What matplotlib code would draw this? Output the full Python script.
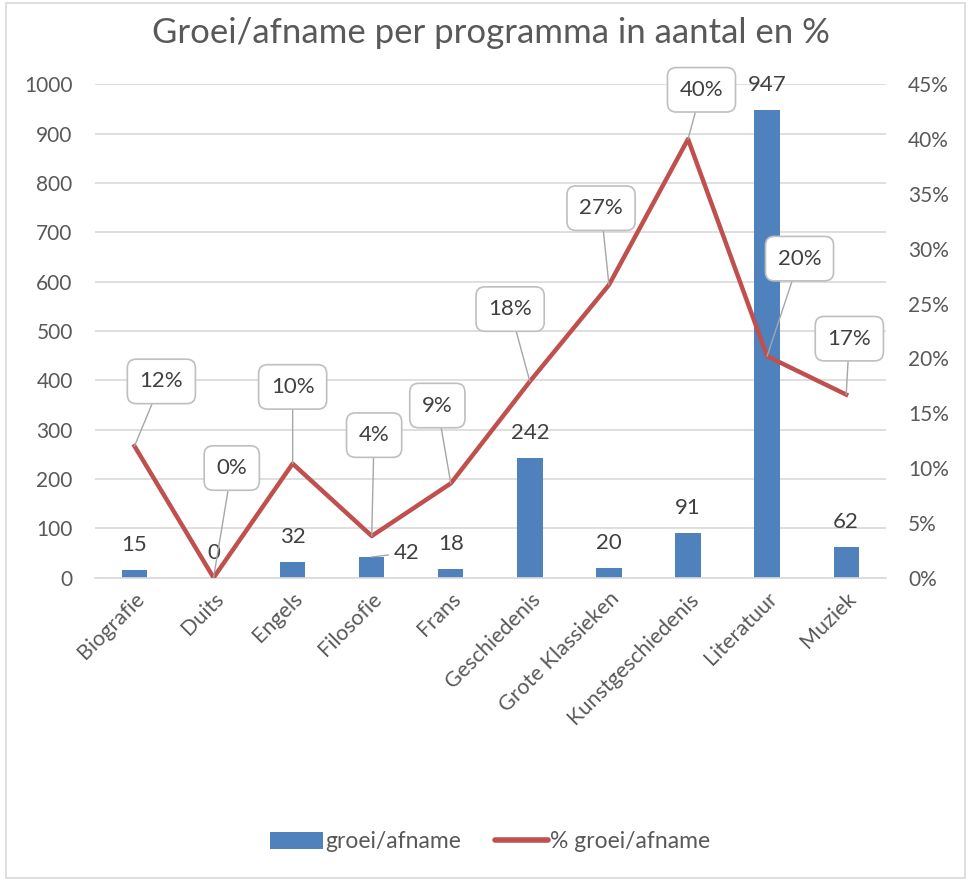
import matplotlib
matplotlib.use('Agg')
from matplotlib import pyplot as plt
from matplotlib.patches import Rectangle, Patch
from matplotlib.lines import Line2D
import numpy as np

plt.rcParams['font.family'] = ['Lato', 'DejaVu Sans']

categories = ['Biografie', 'Duits', 'Engels', 'Filosofie', 'Frans', 'Geschiedenis',
              'Grote Klassieken', 'Kunstgeschiedenis', 'Literatuur', 'Muziek']
groei = [15, 0, 32, 42, 18, 242, 20, 91, 947, 62]
pct_groei = [0.12, 0.0, 0.104, 0.038, 0.086, 0.179, 0.267, 0.40, 0.202, 0.167]
pct_labels = ['12%', '0%', '10%', '4%', '9%', '18%', '27%', '40%', '20%', '17%']

# where the callout boxes sit (category position, value on the % axis)
box_pos = [(0.34, 0.179), (1.23, 0.100), (2.0, 0.174), (3.03, 0.130), (3.83, 0.157),
           (4.75, 0.245), (5.90, 0.337), (7.17, 0.445), (8.41, 0.291), (9.04, 0.218)]

BLUE = '#4f81bd'
RED = '#c0504d'
GRID = '#d9d9d9'
TXT = '#595959'

fig = plt.figure(figsize=(9.68, 8.81), dpi=100)
fig.patches.append(Rectangle((6 / 968, 3 / 881), 959 / 968, 875 / 881, transform=fig.transFigure,
                             fill=False, edgecolor=GRID, linewidth=1.2))

ax = fig.add_axes([0.0981, 0.3443, 0.8169, 0.56])
ax2 = ax.twinx()

x = np.arange(len(categories))
ax.bar(x, groei, width=0.32, color=BLUE, zorder=2)
ax.set_xlim(-0.5, len(categories) - 0.5)
ax.set_ylim(0, 1000)
ax.set_yticks(np.arange(0, 1001, 100))
ax.grid(axis='y', color=GRID, linewidth=1.2, zorder=0)
ax.set_axisbelow(True)
for s in ax.spines.values():
    s.set_visible(False)
ax.spines['bottom'].set_visible(True)
ax.spines['bottom'].set_color(GRID)
ax.spines['bottom'].set_linewidth(1.2)
ax.tick_params(axis='y', length=0, pad=16, labelsize=15, labelcolor=TXT)
ax.tick_params(axis='x', length=0, pad=8, labelsize=15.5, labelcolor=TXT)
ax.set_xticks(x)
ax.set_xticklabels(categories, rotation=45, ha='right', rotation_mode='anchor')

# value labels on the bars
for i, v in enumerate(groei):
    if categories[i] == 'Filosofie':
        ax.annotate(str(v), xy=(i, v), xytext=(16, 3), textcoords='offset points',
                    ha='left', va='center', fontsize=16, color='#404040',
                    arrowprops=dict(arrowstyle='-', color='#a6a6a6', lw=1,
                                    shrinkA=2, shrinkB=0))
    else:
        ax.annotate(str(v), xy=(i, v), xytext=(0, 18), textcoords='offset points',
                    ha='center', va='center', fontsize=16, color='#404040')

ax2.plot(x, pct_groei, color=RED, linewidth=3.2, solid_joinstyle='round', zorder=3)
ax2.set_ylim(0, 0.45)
ax2.set_yticks(np.arange(0, 0.451, 0.05))
ax2.set_yticklabels(['%d%%' % round(t * 100) for t in np.arange(0, 0.451, 0.05)])
for s in ax2.spines.values():
    s.set_visible(False)
ax2.tick_params(axis='y', length=0, pad=16, labelsize=15, labelcolor=TXT)

for i in range(len(categories)):
    ax2.annotate(pct_labels[i], xy=(i, pct_groei[i]), xytext=box_pos[i], textcoords='data',
                 ha='center', va='center', fontsize=16, color='#404040', zorder=5,
                 bbox=dict(boxstyle='round,pad=0.55,rounding_size=0.4', fc='white',
                           ec='#bfbfbf', lw=1.2),
                 arrowprops=dict(arrowstyle='-', color='#a6a6a6', lw=1,
                                 shrinkA=0, shrinkB=0))

fig.text(491 / 968, 1 - 33 / 881, 'Groei/afname per programma in aantal en %',
         ha='center', va='center', fontsize=25, color=TXT)

handles = [Patch(facecolor=BLUE, edgecolor='none'),
           Line2D([0], [0], color=RED, linewidth=4, solid_capstyle='round')]
fig.legend(handles, ['groei/afname', '% groei/afname'], loc='center',
           bbox_to_anchor=(490 / 968, 1 - 842 / 881), ncol=2, frameon=False,
           fontsize=16.5, labelcolor=TXT, handlelength=2.3, handleheight=0.75,
           handletextpad=0.1, columnspacing=1.5)

plt.savefig('out.png', dpi=100)
